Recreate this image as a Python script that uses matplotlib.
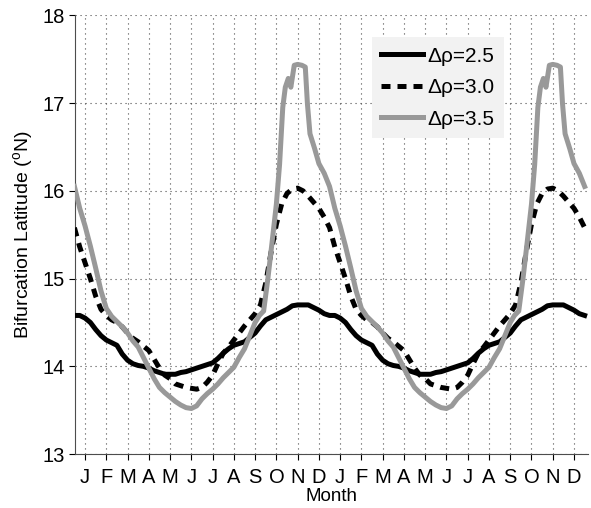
import numpy as np
import matplotlib.pyplot as plt

plt.rcParams['font.family'] = ['Liberation Sans', 'DejaVu Sans']
plt.rcParams['mathtext.default'] = 'regular'

# one climatological year, sampled every quarter month (J tick = 1)
months = np.arange(0.5, 12.51, 0.25)
lat_25 = [14.58, 14.58, 14.55, 14.50, 14.42, 14.35, 14.30, 14.27, 14.24, 14.14,
          14.07, 14.03, 14.01, 14.00, 13.98, 13.95, 13.93, 13.91, 13.91, 13.91,
          13.93, 13.94, 13.96, 13.98, 14.00, 14.02, 14.04, 14.09, 14.15, 14.20,
          14.24, 14.26, 14.28, 14.33, 14.38, 14.46, 14.53, 14.56, 14.59, 14.62,
          14.65, 14.69, 14.70, 14.70, 14.70, 14.67, 14.64, 14.60, 14.58]
lat_30 = [15.58, 15.36, 15.18, 15.00, 14.80, 14.65, 14.58, 14.53, 14.50, 14.45,
          14.38, 14.32, 14.28, 14.23, 14.18, 14.08, 13.98, 13.90, 13.86, 13.80,
          13.78, 13.76, 13.75, 13.74, 13.76, 13.82, 13.90, 14.03, 14.15, 14.22,
          14.30, 14.38, 14.46, 14.53, 14.60, 14.70, 14.95, 15.30, 15.62, 15.85,
          15.97, 16.02, 16.03, 16.00, 15.94, 15.87, 15.80, 15.70, 15.58]

# the 3.5 case has a sharp autumn peak, so it gets its own finer sampling
months_35 = [0.5, 0.75, 1.0, 1.25, 1.5, 1.75, 2.0, 2.25, 2.5, 2.75, 3.0, 3.25,
             3.5, 3.75, 4.0, 4.25, 4.5, 4.75, 5.0, 5.25, 5.5, 5.75, 6.0, 6.25,
             6.5, 6.75, 7.0, 7.25, 7.5, 7.75, 8.0, 8.25, 8.5, 8.75, 9.0, 9.2,
             9.4, 9.6, 9.8, 10.0, 10.15, 10.3, 10.42, 10.56, 10.68, 10.84, 11.0,
             11.2, 11.36, 11.46, 11.58, 11.8, 12.0, 12.25, 12.5]
lat_35 = [16.05, 15.80, 15.60, 15.37, 15.12, 14.86, 14.66, 14.57, 14.51, 14.45,
          14.38, 14.29, 14.22, 14.10, 13.98, 13.86, 13.76, 13.70, 13.65, 13.60,
          13.56, 13.53, 13.52, 13.55, 13.63, 13.69, 13.74, 13.80, 13.87, 13.93,
          13.99, 14.10, 14.20, 14.35, 14.50, 14.58, 14.63, 15.00, 15.42, 15.85,
          16.30, 16.95, 17.18, 17.28, 17.18, 17.43, 17.44, 17.43, 17.41, 16.99,
          16.65, 16.48, 16.31, 16.20, 16.05]

month_labels = ['J', 'F', 'M', 'A', 'M', 'J', 'J', 'A', 'S', 'O', 'N', 'D'] * 2
legend_labels = [u'\u0394\u03c1=2.5', u'\u0394\u03c1=3.0', u'\u0394\u03c1=3.5']


def two_years(m, v):
    m = np.asarray(m)
    v = np.asarray(v)
    return np.concatenate([m, m[1:] + 12]), np.concatenate([v, v[1:]])


fig = plt.figure(figsize=(5.91, 5.08), dpi=100)
ax = fig.add_axes([0.127, 0.106, 0.868, 0.864])

x, y = two_years(months, lat_25)
ax.plot(x, y, color='black', lw=3.6, label=legend_labels[0], zorder=3)
x, y = two_years(months, lat_30)
ax.plot(x, y, color='black', lw=3.6, ls=(0, (1.8, 1.4)),
        dash_capstyle='butt', label=legend_labels[1], zorder=3)
x, y = two_years(months_35, lat_35)
ax.plot(x, y, color='0.6', lw=3.6, label=legend_labels[2], zorder=4)

ax.set_xlim(0.53, 24.66)
ax.set_ylim(13, 18)
ax.set_xticks(np.arange(1, 25))
ax.set_xticklabels(month_labels)
ax.set_yticks([13, 14, 15, 16, 17, 18])
ax.tick_params(direction='out', length=4, width=0.8, labelsize=14.5)
ax.tick_params(axis='x', pad=6)
ax.grid(True, ls=(0, (1, 3.5)), color='0.3', lw=0.8)
ax.set_axisbelow(True)

for side in ['top', 'right']:
    ax.spines[side].set_visible(False)
ax.spines['left'].set_color('0.3')
ax.spines['bottom'].set_color('0.3')

ax.set_xlabel('Month', fontsize=13.5, labelpad=1)
ax.set_ylabel(r'Bifurcation Latitude ($^{o}$N)', fontsize=14, labelpad=5)

leg = ax.legend(loc='upper left', bbox_to_anchor=(0.579, 0.95), fontsize=15,
                frameon=True, fancybox=False, handlelength=2.0,
                handletextpad=0.2, labelspacing=0.6, borderpad=0.45,
                borderaxespad=0)
leg.get_frame().set_facecolor('#f2f2f2')
leg.get_frame().set_edgecolor('none')
leg.get_frame().set_alpha(1)

fig.savefig('out.png', dpi=100)
